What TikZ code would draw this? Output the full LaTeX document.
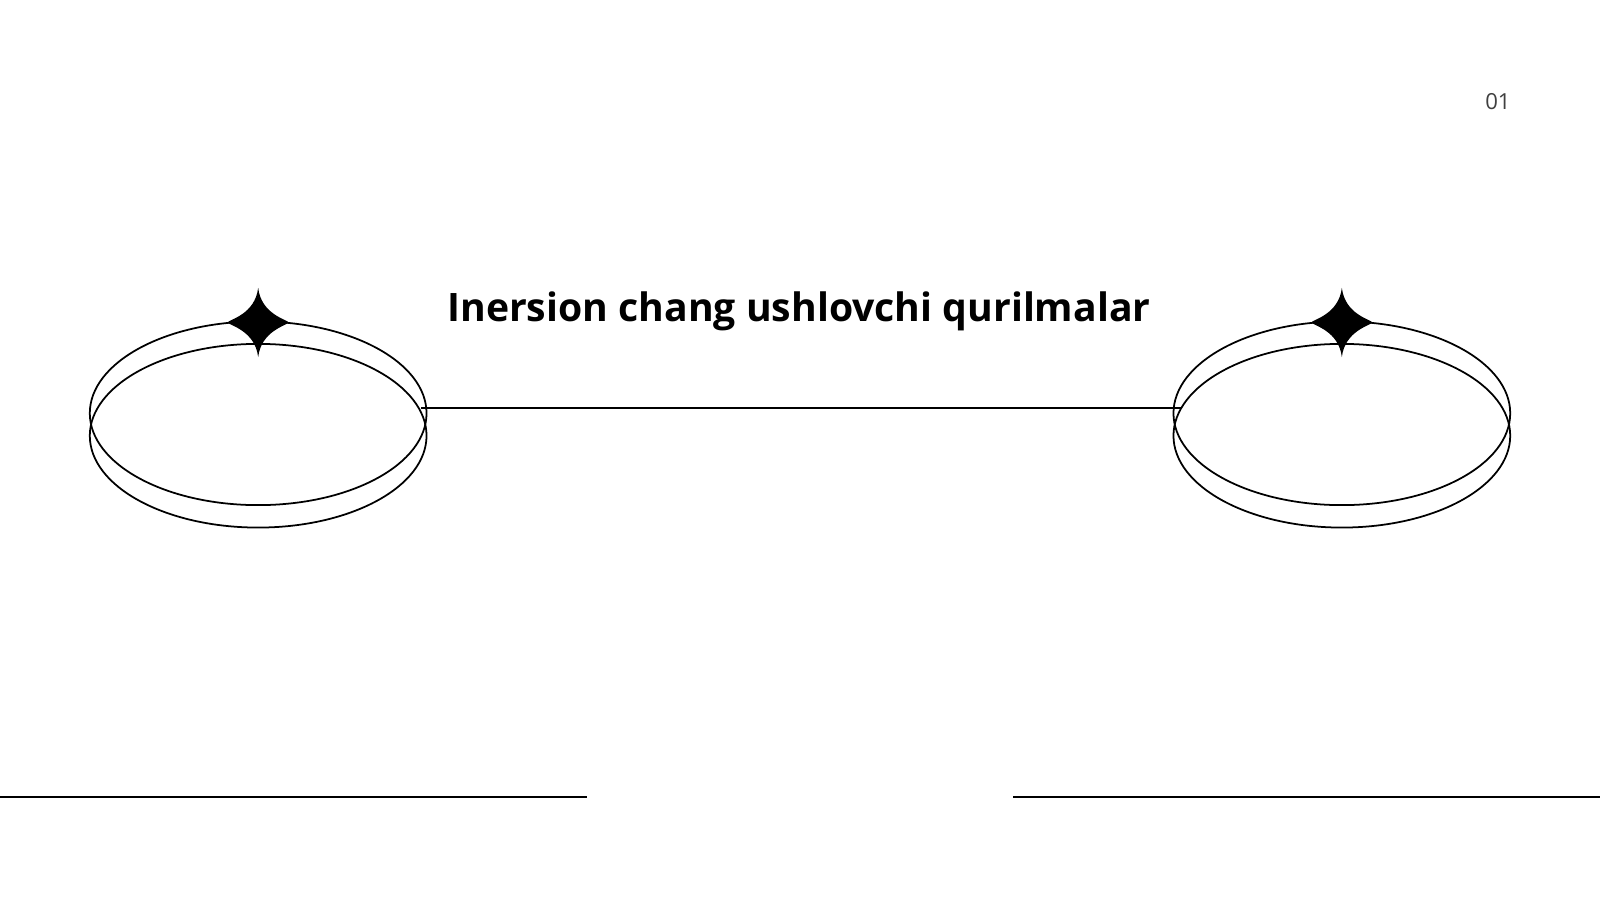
\documentclass[tikz,border=0pt]{standalone}
\usepackage{fontspec}
\setmainfont{Open Sans}
\begin{document}
\begin{tikzpicture}[x=0.010204cm,y=-0.010204cm,line width=0.4pt,
  ring/.style={draw,line width=0.5pt},
  sparkle/.style={fill=black}]
  \useasboundingbox (0,0) rectangle (1568,882);
  % rings
  \foreach \cx/\nm in {253/l,1315/r}{
    \draw[ring] (\cx,405) ellipse (165 and 90);
    \draw[ring] (\cx,427) ellipse (165 and 90);
    \coordinate (star\nm) at (\cx,316);
    \fill[sparkle] (star\nm) ++(0,-34) .. controls ++(3,26) and ++(-2,-3) .. ++(30,34)
      .. controls ++(-2,3) and ++(3,-26) .. ++(-30,34)
      .. controls ++(-3,-26) and ++(2,3) .. ++(-30,-34)
      .. controls ++(2,-3) and ++(-3,26) .. cycle;
  }
  \coordinate (lineL) at (413,400);
  \coordinate (lineR) at (1157,400);
  \draw[line width=0.6pt] (lineL) -- (lineR);
  \node[font=\bfseries\fontsize{11.15}{13}\selectfont] (title) at (783,305) {Inersion chang ushlovchi qurilmalar};
  \node[font=\fontsize{6.3}{7}\selectfont,text=black!75] (page) at (1468,100) {01};
  % bottom rules
  \coordinate (b1) at (0,781); \coordinate (b2) at (575,781);
  \coordinate (b3) at (993,781); \coordinate (b4) at (1568,781);
  \draw[line width=0.5pt] (b1) -- (b2) (b3) -- (b4);
\end{tikzpicture}
\end{document}
